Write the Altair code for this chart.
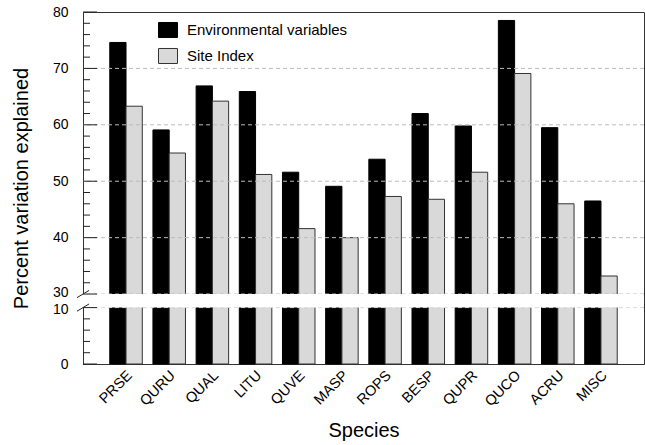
import altair as alt
import pandas as pd

species = ["PRSE", "QURU", "QUAL", "LITU", "QUVE", "MASP", "ROPS", "BESP", "QUPR", "QUCO", "ACRU", "MISC"]
env_vals = [74.6, 59.1, 66.9, 65.9, 51.6, 49.1, 53.9, 62.0, 59.8, 78.5, 59.5, 46.5]
site_vals = [63.3, 55.0, 64.2, 51.2, 41.6, 40.0, 47.3, 46.8, 51.6, 69.1, 46.0, 33.2]
series_names = ["Environmental variables", "Site Index"]

major_ticks = [0, 10, 30, 40, 50, 60, 70, 80]
minor_ticks = [2, 4, 6, 8, 32, 34, 36, 38, 42, 44, 46, 48, 52, 54, 56, 58, 62, 64, 66, 68, 72, 74, 76, 78]
grid_vals = [10, 30, 40, 50, 60, 70]
break_vals = [10, 30]
band_lo = [10]
band_hi = [30]

SHIFT = 17.6  # axis break: 10..30 squeezed into 2.4 units
W, H = 561, 352
TOP = 80 - SHIFT


def disp(v):
    return v if v <= 10 else v - SHIFT


CALC = f"datum.v <= 10 ? datum.v : datum.v - {SHIFT}"

bars_df = pd.DataFrame(
    [{"species": s, "series": series_names[0], "v": e} for s, e in zip(species, env_vals)]
    + [{"species": s, "series": series_names[1], "v": g} for s, g in zip(species, site_vals)]
)

yscale = alt.Scale(domain=[0, TOP], nice=False, zero=True)
yaxis = alt.Axis(title="Percent variation explained",
                 values=[disp(v) for v in major_ticks],
                 labelExpr=f"datum.value <= 10.5 ? round(datum.value) : round(datum.value + {SHIFT})",
                 labelOffset={"condition": [
                     {"test": "datum.value == 10", "value": 2},
                     {"test": "datum.value > 12 && datum.value < 13", "value": -2},
                 ], "value": 0},
                 ticks=False, grid=False, labelPadding=15, labelFontSize=14,
                 labelOverlap=False, labelColor="#000",
                 titleFontSize=20, titleFontWeight="normal", titlePadding=21,
                 titleColor="#000", domainColor="#333")


def Y():
    return alt.Y("d:Q", scale=yscale, axis=yaxis)


bars = alt.Chart(bars_df).transform_calculate(d=CALC).mark_bar(strokeWidth=1).encode(
    x=alt.X("species:N", sort=species,
            scale=alt.Scale(paddingInner=0.247, paddingOuter=0.62),
            axis=alt.Axis(title="Species", labelAngle=-45, labelAlign="right",
                          labelBaseline="middle", labelFontSize=14.5, ticks=False,
                          labelPadding=9, labelOffset=4, titleFontSize=20,
                          titleFontWeight="normal", titlePadding=12, domainColor="#333",
                          labelColor="#000", titleColor="#000")),
    xOffset=alt.XOffset("series:N", sort=series_names,
                        scale=alt.Scale(paddingInner=0, paddingOuter=0)),
    y=Y(),
    color=alt.Color("series:N", sort=series_names,
                    scale=alt.Scale(domain=series_names, range=["#000000", "#d9d9d9"]),
                    legend=alt.Legend(orient="none", legendX=75, legendY=8, title=None,
                                      symbolType="M-1,-0.79L1,-0.79L1,0.79L-1,0.79Z",
                                      symbolSize=361, labelFontSize=15, rowPadding=6,
                                      labelOffset=9, labelLimit=400,
                                      symbolStrokeColor="#333",
                                      symbolStrokeWidth=1, padding=0, labelColor="#000")),
    stroke=alt.Stroke("series:N", sort=series_names,
                      scale=alt.Scale(domain=series_names, range=["#000000", "#333333"]),
                      legend=None),
)

grid = alt.Chart(pd.DataFrame({"v": grid_vals})).transform_calculate(d=CALC).mark_rule(
    color="#bbbbbb", strokeDash=[4, 3], strokeWidth=1
).encode(y=Y())

band = alt.Chart(pd.DataFrame({"lo": band_lo, "hi": band_hi})).transform_calculate(
    d=f"datum.lo <= 10 ? datum.lo : datum.lo - {SHIFT}",
    d2=f"datum.hi <= 10 ? datum.hi : datum.hi - {SHIFT}",
).mark_rect(color="white").encode(
    y=Y(), y2="d2:Q",
    x=alt.value(-2), x2=alt.value(W - 1),
)

major = alt.Chart(pd.DataFrame({"v": major_ticks})).transform_calculate(d=CALC).mark_rule(
    color="#222", strokeWidth=1
).encode(y=Y(), x=alt.value(0), x2=alt.value(14))

minor = alt.Chart(pd.DataFrame({"v": minor_ticks})).transform_calculate(d=CALC).mark_rule(
    color="#222", strokeWidth=1
).encode(y=Y(), x=alt.value(0), x2=alt.value(7))

slashes = alt.Chart(pd.DataFrame({"v": break_vals})).transform_calculate(d=CALC).mark_point(
    shape="M-1,0.6L1,-0.6", size=144, stroke="#222", strokeWidth=1, filled=False, opacity=1
).encode(y=Y(), x=alt.value(0))

chart = alt.layer(bars, grid, band, major, minor, slashes).properties(
    width=W, height=H,
    padding={"left": 83, "top": 12, "right": 1, "bottom": 81},
    autosize=alt.AutoSizeParams(type="none"),
).configure(font="Liberation Sans").configure_view(stroke="#333", strokeWidth=1)

chart.save("out.html", embed_options={"renderer": "svg", "actions": False})
